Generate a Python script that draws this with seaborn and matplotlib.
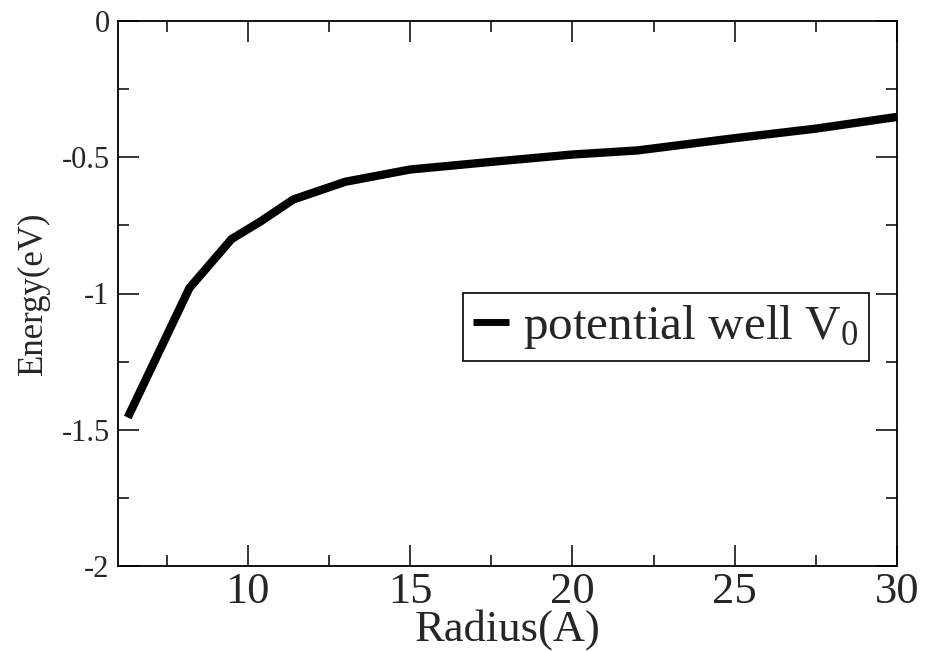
import matplotlib
matplotlib.use("Agg")
import matplotlib.pyplot as plt
import seaborn as sns
import pandas as pd
from matplotlib.ticker import MultipleLocator

radius = [6.3, 8.2, 9.5, 10.4, 11.4, 13.0, 15.0, 17.5, 20.0, 22.0, 25.0, 27.5, 30.0]
energy = [-1.455, -0.98, -0.80, -0.735, -0.655, -0.59, -0.545, -0.517, -0.49, -0.475, -0.43, -0.395, -0.352]
series_label = "potential well V$_0$"

sns.set_theme(style="white")
plt.rcParams['font.family'] = ['Liberation Serif', 'DejaVu Serif']
plt.rcParams['mathtext.fontset'] = 'custom'
plt.rcParams['mathtext.rm'] = 'Liberation Serif'
plt.rcParams['mathtext.it'] = 'Liberation Serif'
plt.rcParams['mathtext.default'] = 'regular'

df = pd.DataFrame({"Radius": radius, "Energy": energy, "series": series_label})

fig = plt.figure(figsize=(9.36, 6.51), dpi=100)
ax = fig.add_axes([118/936, 1-566/651, (897-118)/936, (566-21)/651])

sns.lineplot(data=df, x="Radius", y="Energy", hue="series", palette=["black"],
             linewidth=6, ax=ax, solid_capstyle="butt")

ax.set_xlim(6, 30)
ax.set_ylim(-2, 0)
ax.xaxis.set_major_locator(MultipleLocator(5))
ax.xaxis.set_minor_locator(MultipleLocator(2.5))
ax.yaxis.set_major_locator(MultipleLocator(0.5))
ax.yaxis.set_minor_locator(MultipleLocator(0.25))
ax.set_xticks([10, 15, 20, 25, 30])
ax.set_xticklabels(["10", "15", "20", "25", "30"])
ax.set_yticks([-2, -1.5, -1, -0.5, 0])
ax.set_yticklabels(["-2", "-1.5", "-1", "-0.5", "0"])

for s in ax.spines.values():
    s.set_color("black")
    s.set_linewidth(1.3)
    s.set_visible(True)

ax.tick_params(which="both", direction="in", top=True, right=True, bottom=True, left=True,
               color="black", width=1.1)
ax.tick_params(which="major", length=15)
ax.tick_params(which="minor", length=8)
ax.tick_params(axis="x", which="major", labelsize=32, pad=4)
ax.tick_params(axis="y", which="major", labelsize=22, pad=6)

ax.set_xlabel("Radius(A)", fontsize=32, labelpad=-1.5)
ax.set_ylabel("Energy(eV)", fontsize=25, labelpad=8)

leg = ax.legend(loc="upper right", bbox_to_anchor=((869-118)/779, (566-293)/545),
                fontsize=35.5, frameon=True, fancybox=False, shadow=False,
                handlelength=0.72, handletextpad=0.3, borderpad=0.2, borderaxespad=0)
leg.get_frame().set_edgecolor("black")
leg.get_frame().set_linewidth(1.2)
leg.get_frame().set_alpha(1)
for line in leg.get_lines():
    line.set_linewidth(5)

fig.savefig("out.png", dpi=100)
